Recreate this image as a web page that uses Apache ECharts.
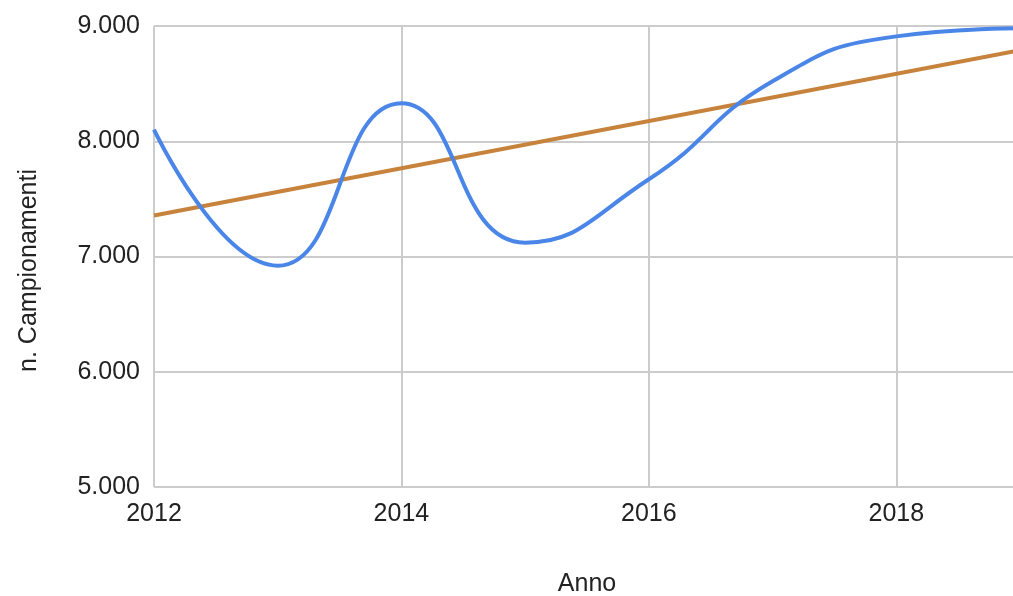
<!DOCTYPE html>
<html>
<head>
<meta charset="utf-8">
<script src="https://cdn.jsdelivr.net/npm/echarts@6/dist/echarts.min.js"></script>
<style>
    html, body { margin: 0; padding: 0; background: #fff; overflow: hidden; }
    #chart { width: 1020px; height: 596px; }
</style>
</head>
<body>
<div id="chart"></div>
<script>
// dati
var anni = [2012, 2013, 2014, 2015, 2016, 2017, 2018, 2019];
var campionamenti = [8100, 6920, 8330, 7120, 7670, 8520, 8910, 8980];
// linea di tendenza (estremi)
var anniTrend = [2012, 2019];
var valoriTrend = [7355, 8790];

var blu = '#4a86e8';
var arancio = '#c7833c';
var grigio = '#cccccc';

function pairs(xs, ys) {
    var out = [];
    for (var i = 0; i < xs.length; i++) out.push([xs[i], ys[i]]);
    return out;
}

function migliaia(v) {
    return String(v).replace(/\B(?=(\d{3})+(?!\d))/g, '.');
}

var option = {
    animation: false,
    textStyle: { fontFamily: 'Liberation Sans, Arial, sans-serif' },
    grid: {
        left: 154,
        top: 26,
        right: 0,
        bottom: 109,
        outerBoundsMode: 'none'
    },
    xAxis: {
        type: 'value',
        min: 2012,
        max: 2019,
        interval: 2,
        name: 'Anno',
        nameLocation: 'middle',
        nameGap: 85,
        nameTextStyle: { fontSize: 25, color: '#222' },
        axisLine: { show: false },
        axisTick: { show: false },
        axisLabel: {
            fontSize: 25,
            color: '#222',
            margin: 15,
            showMaxLabel: false,
            formatter: function (v) { return String(v); }
        },
        splitLine: { show: true, lineStyle: { color: grigio, width: 2 } }
    },
    yAxis: {
        type: 'value',
        min: 5000,
        max: 9000,
        interval: 1000,
        name: 'n. Campionamenti',
        nameLocation: 'middle',
        nameRotate: 90,
        nameGap: 112,
        nameTextStyle: { fontSize: 25, color: '#222', padding: [0, 28, 0, 0] },
        axisLine: { show: false },
        axisTick: { show: false },
        axisLabel: {
            fontSize: 25,
            color: '#222',
            margin: 14,
            formatter: migliaia
        },
        splitLine: { show: true, lineStyle: { color: grigio, width: 2 } }
    },
    series: [
        {
            type: 'line',
            data: pairs(anni, campionamenti),
            smooth: 0.5,
            showSymbol: false,
            lineStyle: { color: blu, width: 4 },
            z: 3
        },
        {
            type: 'line',
            data: pairs(anniTrend, valoriTrend),
            showSymbol: false,
            lineStyle: { color: arancio, width: 4 },
            z: 2
        }
    ]
};

var myChart = echarts.init(document.getElementById('chart'));
myChart.setOption(option);
</script>
</body>
</html>
